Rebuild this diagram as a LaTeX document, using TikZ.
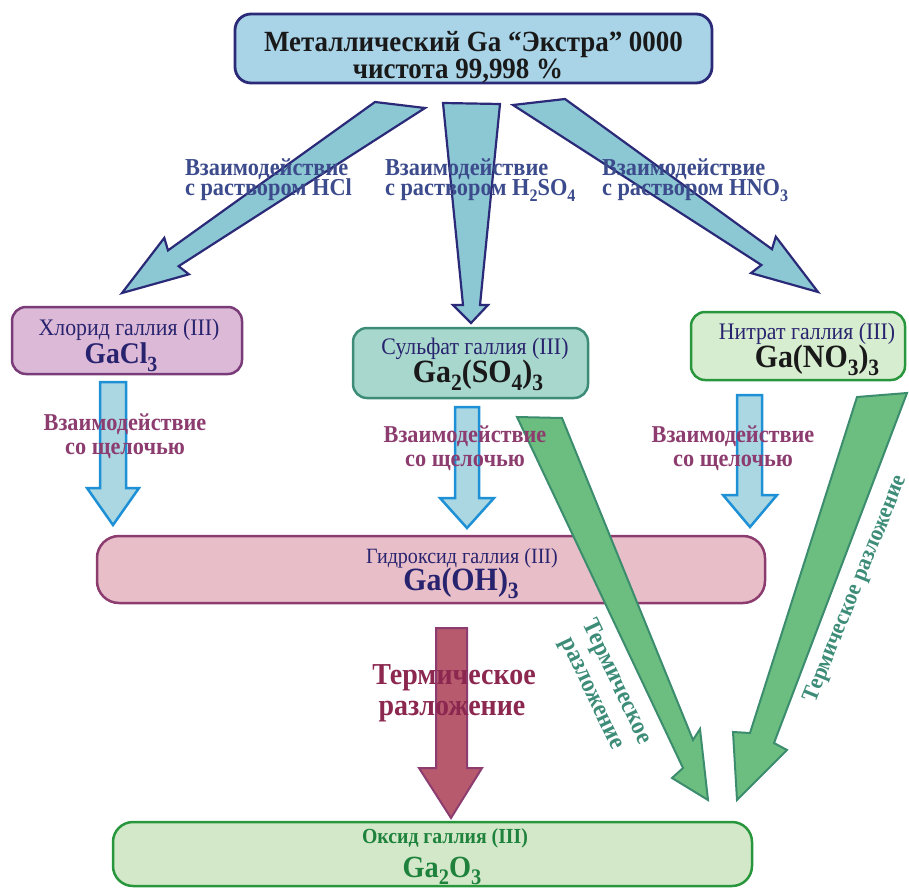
\documentclass[tikz,border=0pt]{standalone}
\usepackage{graphicx}
\usepackage{fontspec}
\setmainfont{Liberation Serif}[FakeStretch=0.92]
\definecolor{topfill}{HTML}{A9D3E7}
\definecolor{navy}{HTML}{2B2A78}
\definecolor{arrblue}{HTML}{8CC8D4}
\definecolor{lblblue}{HTML}{3C4B8C}
\definecolor{txtnavy}{HTML}{28236E}
\definecolor{chlfill}{HTML}{DCB9D7}
\definecolor{chldraw}{HTML}{7A3C78}
\definecolor{sulfill}{HTML}{A8D7CD}
\definecolor{suldraw}{HTML}{3C8C78}
\definecolor{nitfill}{HTML}{D7EDD0}
\definecolor{grndraw}{HTML}{28963C}
\definecolor{lowfill}{HTML}{AAD7E1}
\definecolor{lowdraw}{HTML}{1E90D6}
\definecolor{plum}{HTML}{8C3C6E}
\definecolor{hydfill}{HTML}{E8BEC8}
\definecolor{redfill}{HTML}{B85A6E}
\definecolor{redtxt}{HTML}{8C2850}
\definecolor{grnfill}{HTML}{6BBE80}
\definecolor{grnline}{HTML}{3C8C6E}
\definecolor{grntxt}{HTML}{3C8C78}
\definecolor{botfill}{HTML}{D2E8C8}
\definecolor{bottxt}{HTML}{1E823C}
\newcommand\fsz[1]{\fontsize{#1}{#1}\selectfont}
\newcommand\sbs[1]{\raisebox{-0.25em}{\scalebox{0.72}{#1}}}
\begin{document}
\begin{tikzpicture}[x=1pt,y=-1pt,every node/.style={inner sep=0pt,outer sep=0pt}]
\useasboundingbox (0,0) rectangle (909,888);
\tikzset{
  topbox/.style={draw=navy,fill=topfill,line width=2.8pt,rounded corners=16pt},
  chlbox/.style={draw=chldraw,fill=chlfill,line width=2.5pt,rounded corners=14pt},
  sulbox/.style={draw=suldraw,fill=sulfill,line width=2.5pt,rounded corners=14pt},
  nitbox/.style={draw=grndraw,fill=nitfill,line width=2.5pt,rounded corners=14pt},
  hydbox/.style={draw=plum,fill=hydfill,line width=2.5pt,rounded corners=22pt},
  botbox/.style={draw=grndraw,fill=botfill,line width=2.5pt,rounded corners=20pt},
  bluearr/.style={draw=navy,fill=arrblue,line width=2.2pt},
  lowarr/.style={draw=lowdraw,fill=lowfill,line width=2.5pt},
  redarr/.style={draw=plum,fill=redfill,line width=2pt},
  grnarr/.style={draw=grnline,fill=grnfill,line width=2pt},
  titletxt/.style={anchor=base,text=black!90,font=\fsz{29.3}\bfseries},
  acidlbl/.style={anchor=base west,text=lblblue,font=\fsz{24.3}\bfseries},
  alklbl/.style={anchor=base,text=plum,font=\fsz{24.2}\bfseries},
  nametxt/.style={anchor=base,text=txtnavy,font=\fsz{23.7}},
  formtxt/.style={anchor=base,text=txtnavy,font=\fsz{32.5}\bfseries},
  grnlbl/.style={text=grntxt,font=\fsz{25}\bfseries,align=center},
}
% boxes
\node[topbox,minimum width=477pt,minimum height=69pt] (top) at (473.5,48.5) {};
\node[chlbox,minimum width=230pt,minimum height=67pt] (chl) at (127,340.5) {};
\node[sulbox,minimum width=235pt,minimum height=70pt] (sul) at (470.5,363) {};
\node[nitbox,minimum width=214pt,minimum height=68pt] (nit) at (798,346) {};
\node[hydbox,minimum width=668pt,minimum height=67pt] (hyd) at (431,569.5) {};
\node[botbox,minimum width=639pt,minimum height=64pt] (bot) at (432.5,854) {};
% acid arrows
\draw[bluearr] (375,102) -- (425,108) -- (178.6,266.2) -- (188.9,274.3) -- (122,293) -- (164.3,237.9) -- (168,250.4) -- cycle;
\draw[bluearr] (443,103) -- (500,104) -- (480,305) -- (488,305) -- (471,323) -- (453,305) -- (463,305) -- cycle;
\draw[bluearr] (513,105) -- (761.4,265) -- (751,273.1) -- (818,292) -- (775.8,236.7) -- (772,249.2) -- (565,99) -- cycle;
% alkali arrows
\draw[lowarr] (100,382) -- (126,382) -- (126,488) -- (139,488) -- (113,525) -- (87,488) -- (100,488) -- cycle;
\draw[lowarr] (455,407) -- (479,407) -- (479,498) -- (494,498) -- (467,528) -- (440,498) -- (455,498) -- cycle;
\draw[lowarr] (737,395) -- (762,395) -- (762,495) -- (777,495) -- (750,527) -- (723,495) -- (737,495) -- cycle;
% thermal arrows
\draw[redarr] (436,628) -- (467,628) -- (467,768) -- (482,768) -- (451,818) -- (419,768) -- (436,768) -- cycle;
\draw[grnarr] (517,417) -- (562,418) -- (693,740) -- (700,729) -- (708,800) -- (672,778) -- (683,768) -- cycle;
\draw[grnarr] (857,397) -- (907,393) -- (774,743) -- (787,750) -- (737,800) -- (733,732) -- (750,733) -- cycle;
% texts
\node[titletxt] (t1) at (473.5,51.5) {Металлический Ga “Экстра” 0000};
\node[titletxt] (t2) at (458,78.5) {чистота 99,998 \%};
\node[acidlbl] (a1) at (185,175) {Взаимодействие};
\node[acidlbl] (a2) at (185,195) {с раствором HCl};
\node[acidlbl] (b1) at (385,175) {Взаимодействие};
\node[acidlbl] (b2) at (385,195) {с раствором H\sbs{2}SO\sbs{4}};
\node[acidlbl] (c1) at (602,175) {Взаимодействие};
\node[acidlbl] (c2) at (602,195) {с раствором HNO\sbs{3}};
\node[nametxt] (chln) at (129,335.5) {Хлорид галлия (III)};
\node[formtxt,font=\fsz{30}\bfseries] (chlf) at (121,363.5) {GaCl\sbs{3}};
\node[nametxt] (suln) at (475,354.5) {Сульфат галлия (III)};
\node[formtxt,text=black!90] (sulf) at (478,382.5) {Ga\sbs{2}(SO\sbs{4})\sbs{3}};
\node[nametxt] (nitn) at (807,339.5) {Нитрат галлия (III)};
\node[formtxt,text=black!90] (nitf) at (817,367.5) {Ga(NO\sbs{3})\sbs{3}};
\node[alklbl] (l1) at (125,430.5) {Взаимодействие};
\node[alklbl] (l2) at (125,454.5) {со щелочью};
\node[alklbl] (m1) at (465,442.5) {Взаимодействие};
\node[alklbl] (m2) at (465,466.5) {со щелочью};
\node[alklbl] (r1) at (733,442.5) {Взаимодействие};
\node[alklbl] (r2) at (733,466.5) {со щелочью};
\node[nametxt,font=\fsz{21.8}] (hydn) at (462,563.5) {Гидроксид галлия (III)};
\node[formtxt] (hydf) at (461,590.5) {Ga(OH)\sbs{3}};
\node[anchor=base,text=redtxt,font=\fsz{30.4}\bfseries] (th1) at (454,684) {Термическое};
\node[anchor=base,text=redtxt,font=\fsz{30.4}\bfseries] (th2) at (452,715) {разложение};
\node[grnlbl,rotate=-64.6] (g1) at (604,688) {Термическое\\[2pt]разложение};
\node[grnlbl,font=\fsz{23.2}\bfseries,rotate=68] (g2) at (856,589) {Термическое разложение};
\node[anchor=base,text=bottxt,font=\fsz{21.5}\bfseries] (botn) at (445,843.5) {Оксид галлия (III)};
\node[anchor=base,text=bottxt,font=\fsz{30.8}\bfseries] (botf) at (442,877) {Ga\sbs{2}O\sbs{3}};
\end{tikzpicture}
\end{document}
